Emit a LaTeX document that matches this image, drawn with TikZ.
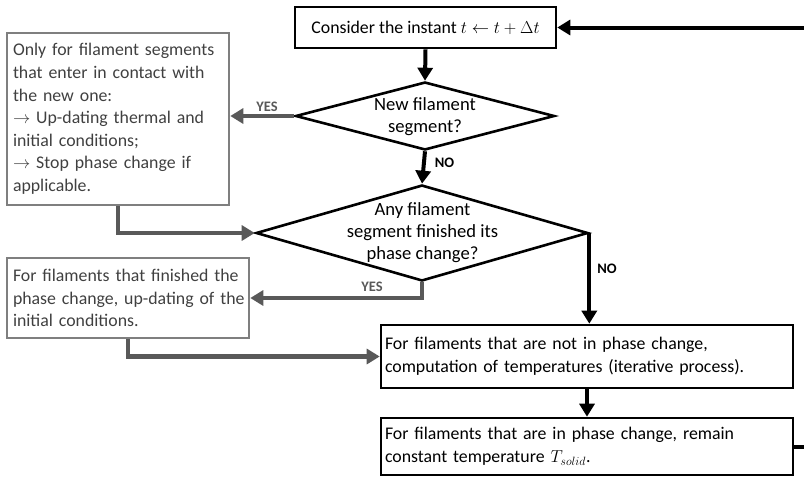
\documentclass[tikz,border=0pt]{standalone}
\usepackage{fontspec}
\setmainfont{Carlito}
\usetikzlibrary{shapes.geometric,arrows.meta}
\definecolor{gbox}{HTML}{7F7F7F}
\definecolor{garr}{HTML}{595959}
\definecolor{gtxt}{HTML}{404040}
\begin{document}
\begin{tikzpicture}[x=1pt,y=-1pt,
  bbox/.style={draw=black,line width=2.6pt,rectangle,inner sep=0pt,align=left,text=black},
  gboxs/.style={draw=gbox,line width=2.6pt,rectangle,inner sep=0pt,align=left,text=gtxt},
  dia/.style={draw=black,line width=2.6pt,diamond,inner sep=0pt},
  diatext/.style={align=center,inner sep=0pt,font=\fontsize{18.6}{21.7}\selectfont},
  barr/.style={draw=black,line width=4pt,-{Triangle[length=13pt,width=15pt]}},
  garrow/.style={draw=garr,line width=4.5pt,-{Triangle[length=13pt,width=15pt]}},
  lbl/.style={font=\bfseries\fontsize{14.5}{16}\selectfont,inner sep=0pt}
]
\useasboundingbox (0,0) rectangle (804,477);
\fontsize{17.8}{22.6}\selectfont
% nodes
\node[bbox,minimum width=261pt,minimum height=41pt,align=center] (top) at (425.5,27.5) {Consider the instant $t \leftarrow t + \Delta t$};
\node[dia,minimum width=259pt,minimum height=68pt] (d1) at (425,116) {};
\node[diatext] (d1t) at (425,116.5) {New filament\\segment?};
\node[dia,minimum width=332pt,minimum height=96pt] (d2) at (422,233) {};
\node[diatext] (d2t) at (422.5,232.5) {Any filament\\segment finished its\\phase change?};
\node[gboxs,minimum width=222pt,minimum height=172pt,text width=210pt] (lb1) at (118,119) {\mbox{Only for filament segments}\\\mbox{that enter in contact with}\\\mbox{the new one:}\\\mbox{$\rightarrow$ Up-dating thermal and}\\\mbox{initial conditions;}\\\mbox{$\rightarrow$ Stop phase change if}\\\mbox{applicable.}};
\node[gboxs,minimum width=242pt,minimum height=80pt,text width=230pt] (lb2) at (128,298) {\mbox{For filaments that finished the}\\\mbox{phase change, up-dating of the}\\\mbox{initial conditions.}};
\node[bbox,minimum width=412pt,minimum height=63pt,text width=404pt] (b3) at (587,356.5) {For filaments that are not in phase change,\\computation of temperatures (iterative process).};
\node[bbox,minimum width=412pt,minimum height=57pt,text width=404pt] (b4) at (587,446.5) {For filaments that are in phase change, remain\\constant temperature $T_{solid}$.};
\coordinate (loopA) at (830,446.5);
\coordinate (loopB) at (830,27.5);
% connectors
\draw[barr] (top.south) -- (d1.north);
\draw[garrow] (d1.west) -- (d1.west -| lb1.east);
\draw[barr] (d1.south) -- (d2.north);
\draw[garrow] (lb1.south) |- (d2.west);
\draw[barr] (d2.east) -- (d2.east |- b3.north);
\draw[garrow] (d2.south) |- (lb2.east);
\draw[garrow] (lb2.south) |- (b3.west);
\draw[barr] (b3.south) -- (b4.north);
\draw[barr] (b4.east) -- (loopA) -- (loopB) -- (top.east);
% labels
\node[lbl,text=garr] (y1) at (267,107) {YES};
\node[lbl,text=black] (n1) at (444.5,163) {NO};
\node[lbl,text=black] (n2) at (607,269) {NO};
\node[lbl,text=garr] (y2) at (372,287) {YES};
\end{tikzpicture}
\end{document}
